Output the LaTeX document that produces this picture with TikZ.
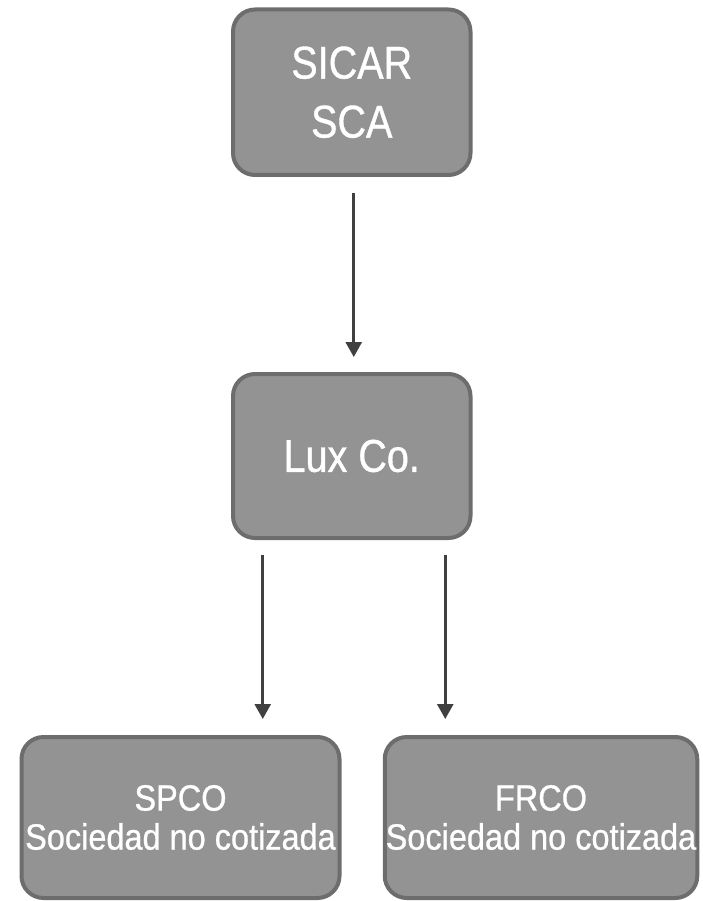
\documentclass[tikz,border=0pt]{standalone}
\usepackage{fontspec}
\setmainfont{Liberation Sans}[FakeStretch=0.86,FakeBold=0.8]
\newfontfamily\bottomfont{Liberation Sans}[FakeStretch=0.89,FakeBold=0.8]
\usetikzlibrary{arrows.meta,calc}
\definecolor{boxfill}{HTML}{939393}
\definecolor{boxline}{HTML}{6D6D6D}
\definecolor{arrowcol}{HTML}{404040}
\begin{document}
\begin{tikzpicture}[x=1pt,y=-1pt,
  entity/.style={draw=boxline, fill=boxfill, line width=4pt, rounded corners=22pt,
    text=white, align=center, inner sep=0pt},
  bigtext/.style={font=\fontsize{46}{59}\selectfont},
  smalltext/.style={font=\bottomfont\fontsize{36.5}{39}\selectfont},
  link/.style={draw=arrowcol, line width=2.7pt, -{Triangle[width=16pt,length=15pt]}}
]
\useasboundingbox (0,0) rectangle (703,901);
\node[entity, bigtext, minimum width=237.5pt, minimum height=165.5pt] (sicar) at (351.75,92.25) {SICAR\\SCA};
\node[entity, bigtext, minimum width=237.5pt, minimum height=164pt] (lux) at (351.75,456) {Lux Co.};
\node[entity, smalltext, minimum width=318pt, minimum height=161pt] (spco) at (180.5,817.5) {SPCO\\Sociedad no cotizada};
\node[entity, smalltext, minimum width=312.5pt, minimum height=161pt] (frco) at (541,817.5) {FRCO\\Sociedad no cotizada};
\draw[link, shorten <=16pt, shorten >=15pt] ([xshift=2pt]sicar.south) -- ([xshift=2pt]lux.north);
\draw[link, shorten <=15pt, shorten >=16pt] ([xshift=-89pt]lux.south) -- ([xshift=-89pt]lux.south |- spco.north);
\draw[link, shorten <=15pt, shorten >=16pt] ([xshift=93.5pt]lux.south) -- ([xshift=93.5pt]lux.south |- frco.north);
\end{tikzpicture}
\end{document}
